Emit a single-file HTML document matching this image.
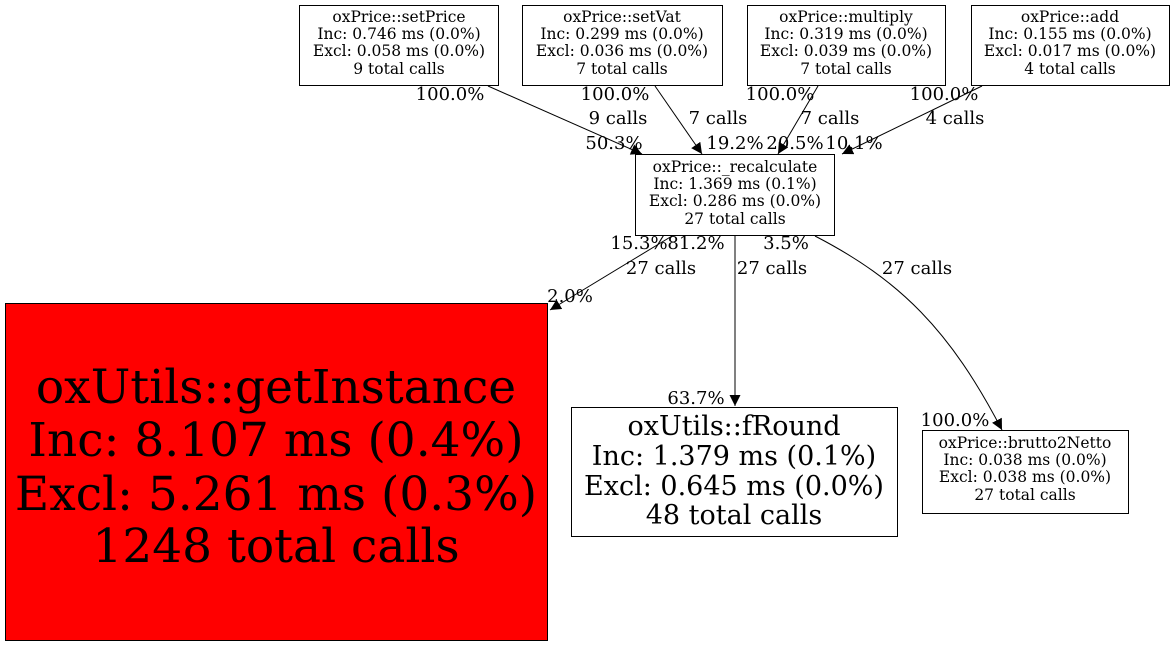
<!DOCTYPE html>
<html><head><meta charset="utf-8"><style>body{margin:0;background:#fff}svg{display:block}</style></head><body>
<svg width="1175" height="645" viewBox="0 0 1175 645" xmlns="http://www.w3.org/2000/svg" font-family="DejaVu Serif, Liberation Serif, serif">
<defs><marker id="a" markerWidth="12" markerHeight="12" refX="11" refY="5.5" orient="auto" markerUnits="userSpaceOnUse"><path d="M0,0 L11,5.5 L0,11 z" fill="#000"/></marker></defs>
<rect width="1175" height="645" fill="#fff"/>
<g fill="#fff" stroke="#000" stroke-width="1">
<rect x="299.5" y="5.5" width="199" height="80"/>
<rect x="522.5" y="5.5" width="200" height="80"/>
<rect x="747.5" y="5.5" width="198" height="80"/>
<rect x="971.5" y="5.5" width="198" height="80"/>
<rect x="635.5" y="154.5" width="199" height="81"/>
<rect x="5.5" y="303.5" width="542" height="337" fill="#ff0000"/>
<rect x="571.5" y="407.5" width="326" height="129"/>
<rect x="922.5" y="430.5" width="206" height="83"/>
</g>
<g stroke="#000" fill="none" stroke-width="1" marker-end="url(#a)">
<path d="M488,86 L642,154"/>
<path d="M655,86 L702,154"/>
<path d="M818,86 L778,154"/>
<path d="M982,86 L842,154"/>
<path d="M672,236 L550,310"/>
<path d="M735,236 L735,406"/>
<path d="M815,236 C900,280 950,330 1002,430"/>
</g>
<g font-size="15.5" text-anchor="middle">
<text x="399" y="22">oxPrice::setPrice</text><text x="399" y="39">Inc: 0.746 ms (0.0%)</text><text x="399" y="56">Excl: 0.058 ms (0.0%)</text><text x="399" y="74">9 total calls</text>
<text x="622" y="22">oxPrice::setVat</text><text x="622" y="39">Inc: 0.299 ms (0.0%)</text><text x="622" y="56">Excl: 0.036 ms (0.0%)</text><text x="622" y="74">7 total calls</text>
<text x="846" y="22">oxPrice::multiply</text><text x="846" y="39">Inc: 0.319 ms (0.0%)</text><text x="846" y="56">Excl: 0.039 ms (0.0%)</text><text x="846" y="74">7 total calls</text>
<text x="1070" y="22">oxPrice::add</text><text x="1070" y="39">Inc: 0.155 ms (0.0%)</text><text x="1070" y="56">Excl: 0.017 ms (0.0%)</text><text x="1070" y="74">4 total calls</text>
<text x="735" y="172">oxPrice::_recalculate</text><text x="735" y="189">Inc: 1.369 ms (0.1%)</text><text x="735" y="206">Excl: 0.286 ms (0.0%)</text><text x="735" y="224">27 total calls</text>
<text x="1025" y="448">oxPrice::brutto2Netto</text><text x="1025" y="465">Inc: 0.038 ms (0.0%)</text><text x="1025" y="482">Excl: 0.038 ms (0.0%)</text><text x="1025" y="500">27 total calls</text>
</g>
<g font-size="47" text-anchor="middle">
<text x="276" y="403">oxUtils::getInstance</text><text x="276" y="456">Inc: 8.107 ms (0.4%)</text><text x="276" y="510">Excl: 5.261 ms (0.3%)</text><text x="276" y="562">1248 total calls</text>
</g>
<g font-size="27" text-anchor="middle">
<text x="734" y="435">oxUtils::fRound</text><text x="734" y="465">Inc: 1.379 ms (0.1%)</text><text x="734" y="495">Excl: 0.645 ms (0.0%)</text><text x="734" y="524">48 total calls</text>
</g>
<g font-size="18" text-anchor="middle">
<text x="450" y="100">100.0%</text><text x="615" y="100">100.0%</text><text x="780" y="100">100.0%</text><text x="944" y="100">100.0%</text>
<text x="618" y="124">9 calls</text><text x="718" y="124">7 calls</text><text x="830" y="124">7 calls</text><text x="955" y="124">4 calls</text>
<text x="614" y="149">50.3%</text><text x="735" y="149">19.2%</text><text x="795" y="149">20.5%</text><text x="854" y="149">10.1%</text>
<text x="639" y="249">15.3%</text><text x="696" y="249">81.2%</text><text x="786" y="249">3.5%</text>
<text x="661" y="274">27 calls</text><text x="772" y="274">27 calls</text><text x="917" y="274">27 calls</text>
<text x="570" y="302">2.0%</text><text x="696" y="404">63.7%</text><text x="955" y="426">100.0%</text>
</g>
</svg>
</body></html>
